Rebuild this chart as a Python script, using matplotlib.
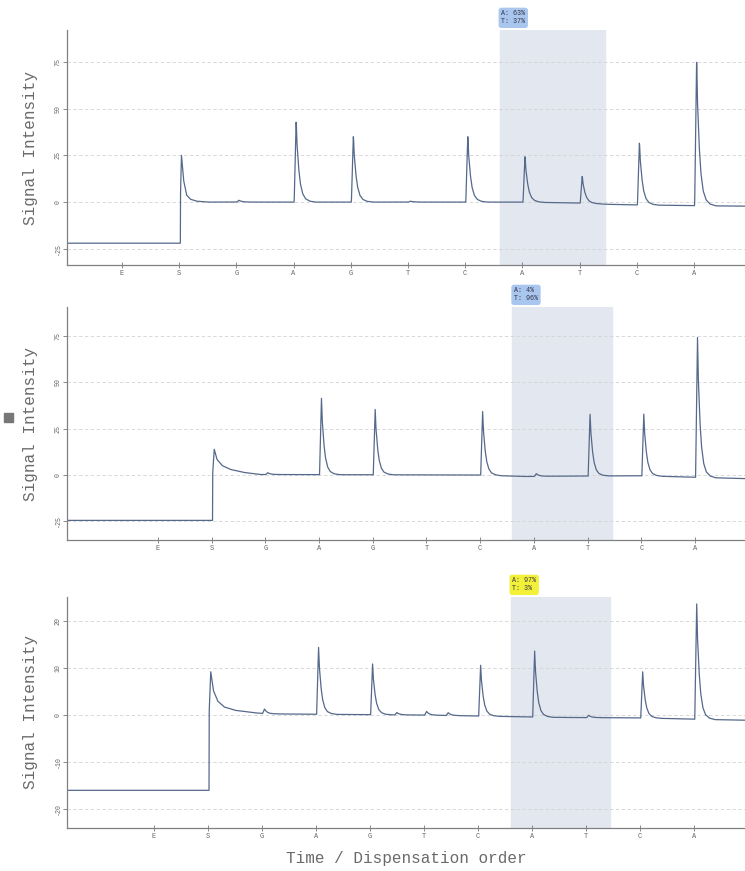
import numpy as np
import matplotlib
matplotlib.use("Agg")
import matplotlib.pyplot as plt
from matplotlib.patches import Rectangle

plt.rcParams["font.family"] = ["Liberation Mono", "DejaVu Sans Mono"]

# dispensation order (same for all three runs)
dispensations = ["E", "S", "G", "A", "G", "T", "C", "A", "T", "C", "A"]

# peak heights for dispensations 3..11
peaks_top = [1.0, 44, 36, 0.5, 36, 25, 14.7, 34, 79]
peaks_mid = [1.0, 42, 36, 0.0, 35, 1.5, 34, 34, 77]
peaks_bot = [1.0, 14.5, 11, 0.8, 11, 14.3, 0.5, 10, 25]

# substrate (S) step: baseline before, peak height
s_top = (-22.0, 25.0)
s_mid = (-24.5, 13.6)
s_bot = (-16.0, 8.9)

# S peak tail (offset from S, fraction of height), one per run
s_top_dx = [0.02, 0.04, 0.08, 0.13, 0.2, 0.3, 0.5]
s_top_fr = [0.0, 1.0, 0.45, 0.15, 0.06, 0.02, 0.0]
s_mid_dx = [0.02, 0.05, 0.1, 0.2, 0.35, 0.6, 0.9]
s_mid_fr = [0.0, 1.0, 0.6, 0.35, 0.2, 0.08, 0.0]
s_bot_dx = [0.02, 0.05, 0.1, 0.18, 0.3, 0.5, 0.8, 1.1]
s_bot_fr = [0.0, 1.0, 0.55, 0.3, 0.16, 0.08, 0.03, 0.0]

# baseline drift after S (x in dispensation units, y)
drift_top_x = [2.3, 8.0, 9.0, 9.5, 10.0, 11.3, 12.0]
drift_top_y = [0.0, 0.0, -0.5, -1.2, -1.5, -2.0, -2.2]
drift_mid_x = [2.5, 7.0, 7.8, 8.5, 10.0, 11.5, 12.0]
drift_mid_y = [0.3, 0.0, -0.8, -0.6, -0.4, -1.6, -2.0]
drift_bot_x = [2.6, 6.0, 8.5, 10.0, 11.5, 12.0]
drift_bot_y = [0.3, 0.0, -0.5, -0.6, -1.0, -1.1]

# small bumps between dispensations (bottom run)
extra_bot_x = [5.45, 6.4]
extra_bot_h = [0.5, 0.6]

# peak profile (offset from dispensation, fraction of height)
shape_dx = [0.0, 0.01, 0.045, 0.06, 0.09, 0.12, 0.16, 0.21, 0.28, 0.38]
shape_fr = [0.0, 0.0, 1.0, 0.7, 0.4, 0.22, 0.1, 0.04, 0.012, 0.0]

annot = ["A: 63%\nT: 37%", "A: 4%\nT: 96%", "A: 97%\nT: 3%"]
annot_col = ["#a9c6ef", "#a9c6ef", "#f3f03a"]

xlims = [(0.04, 11.89), (-0.69, 11.93), (-0.61, 11.94)]
ylims = [(-33.7, 92.1), (-35.1, 90.7), (-24.0, 25.1)]
yticks = [[-25, 0, 25, 50, 75], [-25, 0, 25, 50, 75], [-20, -10, 0, 10, 20]]
span = (7.6, 9.45)

runs = [
    (peaks_top, s_top, s_top_dx, s_top_fr, drift_top_x, drift_top_y, [], []),
    (peaks_mid, s_mid, s_mid_dx, s_mid_fr, drift_mid_x, drift_mid_y, [], []),
    (peaks_bot, s_bot, s_bot_dx, s_bot_fr, drift_bot_x, drift_bot_y, extra_bot_x, extra_bot_h),
]


def trace(x, peaks, s, sdx, sfr, dx_, dy_, ex, eh):
    pre, sh = s
    y = np.where(x < 2.02, pre, np.interp(x, dx_, dy_))
    y = y + sh * np.interp(x - 2, sdx, sfr, left=0, right=0)
    for i, h in enumerate(peaks):
        y = y + h * np.interp(x - (i + 3), shape_dx, shape_fr, left=0, right=0)
    for p, h in zip(ex, eh):
        y = y + h * np.interp(x - p, shape_dx, shape_fr, left=0, right=0)
    return y


fig = plt.figure(figsize=(7.45, 8.71), dpi=100)
boxes = [(0.090, 0.6957, 0.910, 0.2698),
         (0.090, 0.3800, 0.910, 0.2675),
         (0.090, 0.0494, 0.910, 0.2652)]

for k, run in enumerate(runs):
    ax = fig.add_axes(boxes[k])
    x = np.arange(xlims[k][0], xlims[k][1], 0.004)
    ax.plot(x, trace(x, *run), color="#55698a", lw=0.9)
    ax.axvspan(*span, color="#e3e7ef", zorder=0)
    ax.text(span[0] + 0.03, 1.02, annot[k], transform=ax.get_xaxis_transform(),
            fontsize=4.8, va="bottom", ha="left", color="#334",
            bbox=dict(boxstyle="round,pad=0.4", fc=annot_col[k], ec="none"))
    ax.set_xlim(*xlims[k])
    ax.set_ylim(*ylims[k])
    ax.set_xticks(range(1, 12))
    ax.set_xticklabels(dispensations, fontsize=5, color="#666")
    ax.set_yticks(yticks[k])
    ax.set_yticklabels([str(v) for v in yticks[k]], fontsize=4.8, color="#666",
                       rotation=90, va="center")
    ax.tick_params(axis="x", direction="inout", length=5, width=0.6, color="#777", pad=1)
    ax.tick_params(axis="y", direction="out", length=3, width=0.6, color="#777", pad=1)
    ax.grid(axis="y", color="#d2d2d2", ls=(0, (4, 3)), lw=0.6)
    for side in ("top", "right"):
        ax.spines[side].set_visible(False)
    for side in ("left", "bottom"):
        ax.spines[side].set_color("#808080")
        ax.spines[side].set_linewidth(0.9)
    ax.set_ylabel("Signal Intensity", fontsize=11.5, color="#6a6a6a", labelpad=12)
    if k == 2:
        ax.set_xlabel("Time / Dispensation order", fontsize=11.5, color="#6a6a6a", labelpad=8)

fig.patches.append(Rectangle((0.006, 0.515), 0.011, 0.011, transform=fig.transFigure,
                             color="#777777"))

fig.savefig("out.png", dpi=100)
